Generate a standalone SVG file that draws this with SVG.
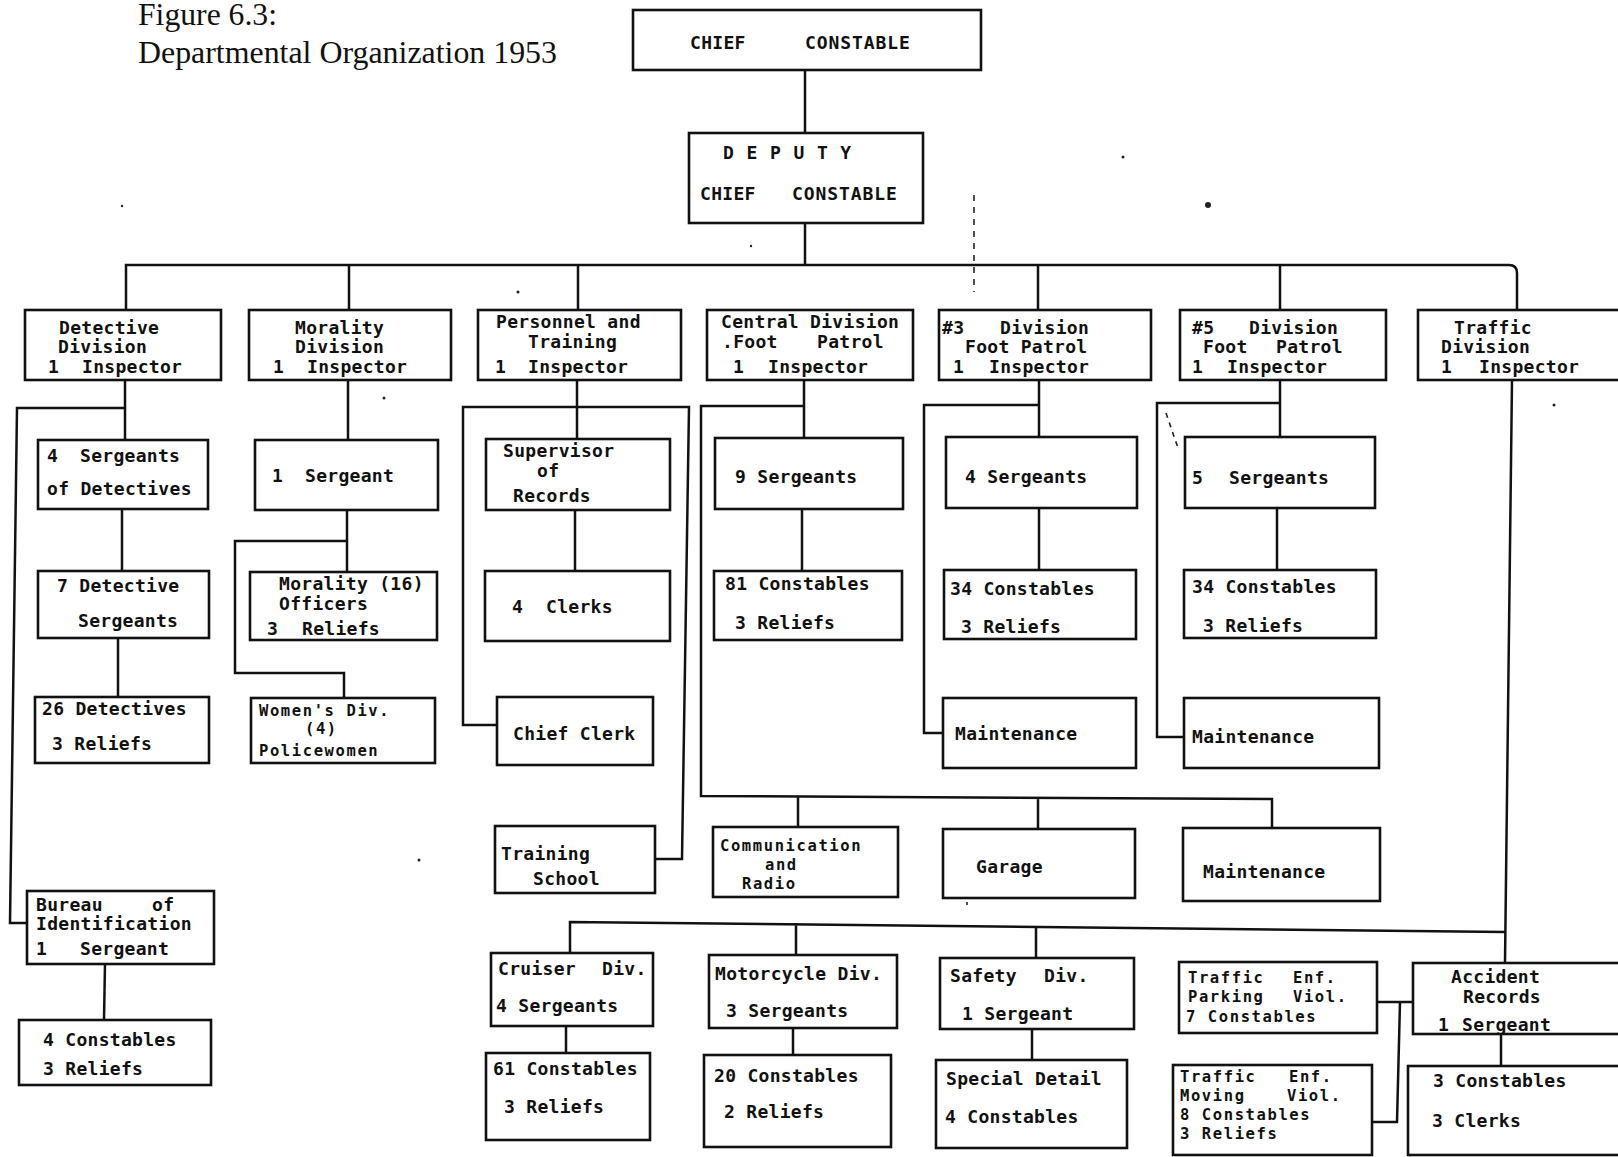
<svg xmlns="http://www.w3.org/2000/svg" width="1618" height="1157" viewBox="0 0 1618 1157">
<style>
.box{fill:#fff;stroke:#111;stroke-width:2.6}
.ln{fill:none;stroke:#111;stroke-width:2.5;stroke-linejoin:miter}
.art{fill:none;stroke:#222;stroke-width:1.6}
.t{font-family:"DejaVu Sans Mono","Liberation Mono",monospace;font-size:18px;font-weight:bold;fill:#111;letter-spacing:0.3px}
.tt{font-family:"DejaVu Sans Mono","Liberation Mono",monospace;font-size:15.5px;font-weight:bold;fill:#111;letter-spacing:1.6px}
.hd{font-family:"DejaVu Sans Mono","Liberation Mono",monospace;font-size:18px;font-weight:bold;fill:#111;letter-spacing:0.9px}
.title{font-family:"Liberation Serif","Times New Roman",serif;font-size:31px;fill:#111}
.dot{fill:#222}
</style>
<rect width="1618" height="1157" fill="#fff"/>
<g id="title">
<text class="title" x="138" y="25" textLength="139" lengthAdjust="spacingAndGlyphs">Figure 6.3:</text>
<text class="title" x="138" y="63" textLength="419" lengthAdjust="spacingAndGlyphs">Departmental Organization 1953</text>
</g>
<g id="connectors">
<path class="ln" d="M805,70 V133"/>
<path class="ln" d="M805,223 V265"/>
<path class="ln" d="M126,310 V265 H1509 Q1517,265 1517,273 V310"/>
<path class="ln" d="M349,265 V310 M578,265 V310 M1038,265 V310 M1280,265 V310"/>
<path class="ln" d="M125,380 V440 M125,408 H17 L10,923 H27"/>
<path class="ln" d="M122,509 V571 M118,638 V697 M105,964 L104,1020"/>
<path class="ln" d="M348,380 V440 M347,510 V572 M347,541 H235 V673 H344 V698"/>
<path class="ln" d="M577,380 V439 M497,725 H463 V407 H689 L682,859 H655 M575,510 V571"/>
<path class="ln" d="M804,380 V438 M804,406 H701 V796 L1272,799 V828 M798,796 V827 M1038,798 V829 M802,509 V571"/>
<path class="ln" d="M1039,380 V437 M1039,405 H924 V733 H943 M1039,508 V570"/>
<path class="ln" d="M1280,380 V437 M1280,403 H1157 V737 H1184 M1277,508 V570"/>
<path class="ln" d="M1512,380 L1505,963 M570,953 V922 L1505,932 M796,923 V955 M1036,926 V958"/>
<path class="ln" d="M566,1026 V1053 M793,1028 V1055 M1032,1029 V1060"/>
<path class="ln" d="M1377,1002 H1413 M1400,1002 L1397,1122 H1372 M1501,1034 V1066"/>
<path class="art" d="M974,195 V292" stroke-dasharray="6 6"/>
<path class="art" d="M967,862 V912" stroke-dasharray="3 7"/>
<path class="art" d="M1192,358 L1187,380 M1166,413 L1178,448" stroke-dasharray="5 5"/>
<circle class="dot" cx="1208" cy="205" r="3"/>
<circle class="dot" cx="1123" cy="157" r="1.5"/>
<circle class="dot" cx="122" cy="206" r="1.2"/>
<circle class="dot" cx="518" cy="292" r="1.5"/>
<circle class="dot" cx="751" cy="246" r="1.2"/>
<circle class="dot" cx="419" cy="860" r="1.5"/>
<circle class="dot" cx="1554" cy="405" r="1.5"/>
<circle class="dot" cx="384" cy="398" r="1.5"/>
</g>
<g id="chief-constable"><rect class="box" x="633" y="10" width="348" height="60"/>
<text class="t" x="690" y="49">CHIEF</text><text class="hd" x="805" y="49">CONSTABLE</text></g>
<g id="deputy-chief-constable"><rect class="box" x="689" y="133" width="234" height="90"/>
<text class="hd" x="723" y="159">D E P U T Y</text>
<text class="t" x="700" y="200">CHIEF</text><text class="hd" x="792" y="200">CONSTABLE</text></g>

<g id="detective-division"><rect class="box" x="25" y="310" width="196" height="70"/>
<text class="t" x="59" y="334">Detective</text><text class="t" x="58" y="353">Division</text>
<text class="t" x="48" y="373">1</text><text class="t" x="82" y="373">Inspector</text></g>
<g id="morality-division"><rect class="box" x="249" y="310" width="202" height="70"/>
<text class="t" x="295" y="334">Morality</text><text class="t" x="295" y="353">Division</text>
<text class="t" x="273" y="373">1</text><text class="t" x="307" y="373">Inspector</text></g>
<g id="personnel-training"><rect class="box" x="478" y="310" width="203" height="70"/>
<text class="t" x="496" y="328">Personnel and</text><text class="t" x="528" y="348">Training</text>
<text class="t" x="495" y="373">1</text><text class="t" x="528" y="373">Inspector</text></g>
<g id="central-division"><rect class="box" x="707" y="310" width="206" height="70"/>
<text class="t" x="721" y="328">Central Division</text>
<text class="t" x="722" y="348">.Foot</text><text class="t" x="817" y="348">Patrol</text>
<text class="t" x="733" y="373">1</text><text class="t" x="768" y="373">Inspector</text></g>
<g id="division-3"><rect class="box" x="939" y="310" width="212" height="70"/>
<text class="t" x="942" y="334">#3</text><text class="t" x="1000" y="334">Division</text>
<text class="t" x="965" y="353">Foot Patrol</text>
<text class="t" x="953" y="373">1</text><text class="t" x="989" y="373">Inspector</text></g>
<g id="division-5"><rect class="box" x="1180" y="310" width="206" height="70"/>
<text class="t" x="1192" y="334">#5</text><text class="t" x="1249" y="334">Division</text>
<text class="t" x="1203" y="353">Foot</text><text class="t" x="1276" y="353">Patrol</text>
<text class="t" x="1192" y="373">1</text><text class="t" x="1227" y="373">Inspector</text></g>
<g id="traffic-division"><rect class="box" x="1418" y="310" width="215" height="70"/>
<text class="t" x="1454" y="334">Traffic</text><text class="t" x="1441" y="353">Division</text>
<text class="t" x="1441" y="373">1</text><text class="t" x="1479" y="373">Inspector</text></g>

<g id="det-sergeants"><rect class="box" x="38" y="440" width="170" height="69"/>
<text class="t" x="47" y="462">4</text><text class="t" x="80" y="462">Sergeants</text>
<text class="t" x="47" y="495">of Detectives</text></g>
<g id="det-detective-sergeants"><rect class="box" x="38" y="571" width="171" height="67"/>
<text class="t" x="57" y="592">7 Detective</text><text class="t" x="78" y="627">Sergeants</text></g>
<g id="det-detectives"><rect class="box" x="35" y="697" width="174" height="66"/>
<text class="t" x="42" y="715">26 Detectives</text><text class="t" x="52" y="750">3 Reliefs</text></g>
<g id="bureau-identification"><rect class="box" x="27" y="891" width="187" height="73"/>
<text class="t" x="36" y="911">Bureau</text><text class="t" x="152" y="911">of</text>
<text class="t" x="36" y="930">Identification</text>
<text class="t" x="36" y="955">1</text><text class="t" x="80" y="955">Sergeant</text></g>
<g id="bureau-constables"><rect class="box" x="19" y="1020" width="192" height="65"/>
<text class="t" x="43" y="1046">4 Constables</text><text class="t" x="43" y="1075">3 Reliefs</text></g>

<g id="mor-sergeant"><rect class="box" x="255" y="440" width="183" height="70"/>
<text class="t" x="272" y="482">1</text><text class="t" x="305" y="482">Sergeant</text></g>
<g id="mor-officers"><rect class="box" x="250" y="572" width="187" height="68"/>
<text class="t" x="279" y="590">Morality (16)</text><text class="t" x="279" y="610">Officers</text>
<text class="t" x="267" y="635">3</text><text class="t" x="302" y="635">Reliefs</text></g>
<g id="womens-div"><rect class="box" x="251" y="698" width="184" height="65"/>
<text class="tt" x="259" y="716">Women's Div.</text><text class="tt" x="305" y="734">(4)</text>
<text class="tt" x="259" y="756">Policewomen</text></g>

<g id="supervisor-records"><rect class="box" x="486" y="439" width="184" height="71"/>
<text class="t" x="503" y="457">Supervisor</text><text class="t" x="537" y="477">of</text>
<text class="t" x="513" y="502">Records</text></g>
<g id="clerks"><rect class="box" x="485" y="571" width="185" height="70"/>
<text class="t" x="512" y="613">4</text><text class="t" x="546" y="613">Clerks</text></g>
<g id="chief-clerk"><rect class="box" x="497" y="697" width="156" height="68"/>
<text class="t" x="513" y="740">Chief Clerk</text></g>
<g id="training-school"><rect class="box" x="495" y="826" width="160" height="67"/>
<text class="t" x="501" y="860">Training</text><text class="t" x="533" y="885">School</text></g>

<g id="central-sergeants"><rect class="box" x="715" y="438" width="188" height="71"/>
<text class="t" x="735" y="483">9 Sergeants</text></g>
<g id="central-constables"><rect class="box" x="714" y="571" width="188" height="69"/>
<text class="t" x="725" y="590">81 Constables</text><text class="t" x="735" y="629">3 Reliefs</text></g>
<g id="communication-radio"><rect class="box" x="713" y="827" width="185" height="70"/>
<text class="tt" x="720" y="851">Communication</text><text class="tt" x="765" y="870">and</text>
<text class="tt" x="742" y="889">Radio</text></g>
<g id="garage"><rect class="box" x="943" y="829" width="192" height="69"/>
<text class="t" x="976" y="873">Garage</text></g>
<g id="central-maintenance"><rect class="box" x="1183" y="828" width="197" height="73"/>
<text class="t" x="1203" y="878">Maintenance</text></g>

<g id="d3-sergeants"><rect class="box" x="946" y="437" width="191" height="71"/>
<text class="t" x="965" y="483">4 Sergeants</text></g>
<g id="d3-constables"><rect class="box" x="944" y="570" width="192" height="69"/>
<text class="t" x="950" y="595">34 Constables</text><text class="t" x="961" y="633">3 Reliefs</text></g>
<g id="d3-maintenance"><rect class="box" x="943" y="698" width="193" height="70"/>
<text class="t" x="955" y="740">Maintenance</text></g>

<g id="d5-sergeants"><rect class="box" x="1185" y="437" width="190" height="71"/>
<text class="t" x="1192" y="484">5</text><text class="t" x="1229" y="484">Sergeants</text></g>
<g id="d5-constables"><rect class="box" x="1184" y="570" width="192" height="68"/>
<text class="t" x="1192" y="593">34 Constables</text><text class="t" x="1203" y="632">3 Reliefs</text></g>
<g id="d5-maintenance"><rect class="box" x="1184" y="698" width="195" height="70"/>
<text class="t" x="1192" y="743">Maintenance</text></g>

<g id="cruiser-div"><rect class="box" x="491" y="953" width="162" height="73"/>
<text class="t" x="498" y="975">Cruiser</text><text class="t" x="602" y="975">Div.</text>
<text class="t" x="496" y="1012">4 Sergeants</text></g>
<g id="cruiser-constables"><rect class="box" x="486" y="1053" width="164" height="87"/>
<text class="t" x="493" y="1075">61 Constables</text><text class="t" x="504" y="1113">3 Reliefs</text></g>
<g id="motorcycle-div"><rect class="box" x="709" y="955" width="188" height="73"/>
<text class="t" x="715" y="980">Motorcycle Div.</text><text class="t" x="726" y="1017">3 Sergeants</text></g>
<g id="motorcycle-constables"><rect class="box" x="704" y="1055" width="187" height="92"/>
<text class="t" x="714" y="1082">20 Constables</text><text class="t" x="724" y="1118">2 Reliefs</text></g>
<g id="safety-div"><rect class="box" x="940" y="958" width="194" height="71"/>
<text class="t" x="950" y="982">Safety</text><text class="t" x="1044" y="982">Div.</text>
<text class="t" x="962" y="1020">1 Sergeant</text></g>
<g id="special-detail"><rect class="box" x="936" y="1060" width="191" height="88"/>
<text class="t" x="946" y="1085">Special Detail</text><text class="t" x="945" y="1123">4 Constables</text></g>
<g id="traffic-parking"><rect class="box" x="1179" y="962" width="198" height="71"/>
<text class="tt" x="1188" y="983">Traffic</text><text class="tt" x="1293" y="983">Enf.</text>
<text class="tt" x="1188" y="1002">Parking</text><text class="tt" x="1293" y="1002">Viol.</text>
<text class="tt" x="1186" y="1022">7 Constables</text></g>
<g id="traffic-moving"><rect class="box" x="1173" y="1065" width="199" height="90"/>
<text class="tt" x="1180" y="1082">Traffic</text><text class="tt" x="1289" y="1082">Enf.</text>
<text class="tt" x="1180" y="1101">Moving</text><text class="tt" x="1287" y="1101">Viol.</text>
<text class="tt" x="1180" y="1120">8 Constables</text><text class="tt" x="1180" y="1139">3 Reliefs</text></g>
<g id="accident-records"><rect class="box" x="1413" y="963" width="220" height="71"/>
<text class="t" x="1451" y="983">Accident</text><text class="t" x="1463" y="1003">Records</text>
<text class="t" x="1438" y="1031">1</text><text class="t" x="1462" y="1031">Sergeant</text></g>
<g id="accident-constables"><rect class="box" x="1408" y="1066" width="225" height="89"/>
<text class="t" x="1433" y="1087">3 Constables</text><text class="t" x="1432" y="1127">3 Clerks</text></g>
</svg>
